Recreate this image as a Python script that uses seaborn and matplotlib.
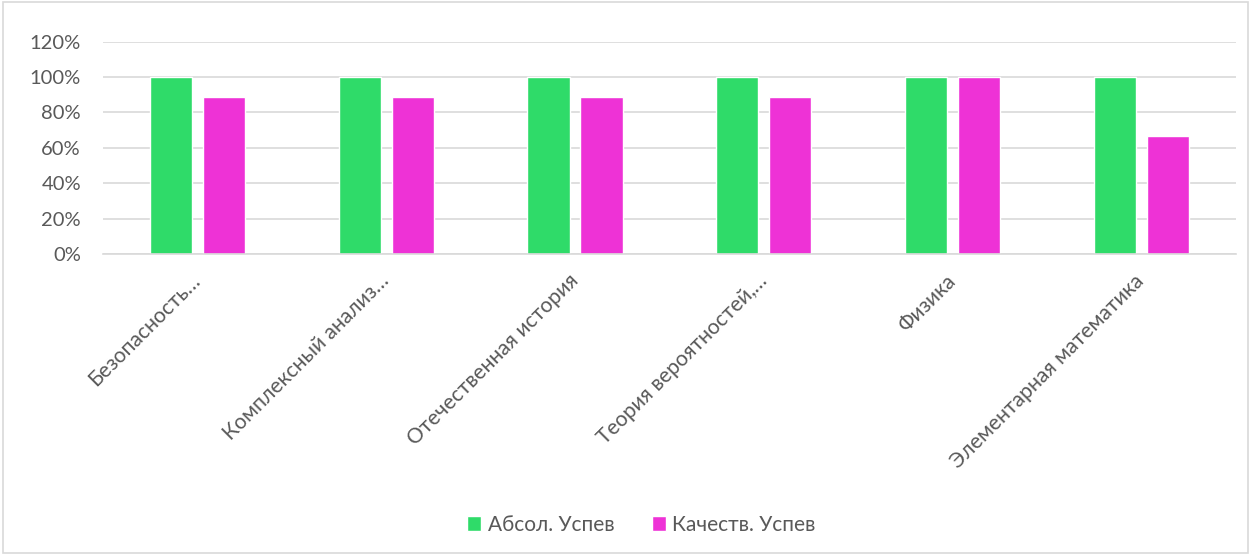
import matplotlib
matplotlib.use("Agg")
import matplotlib.pyplot as plt
import seaborn as sns
import pandas as pd
from matplotlib.patches import Rectangle
from matplotlib.ticker import PercentFormatter

# data
subjects = ["Безопасность…", "Комплексный анализ…", "Отечественная история",
            "Теория вероятностей,…", "Физика", "Элементарная математика"]
absol = [1.0, 1.0, 1.0, 1.0, 1.0, 1.0]
kachestv = [0.889, 0.889, 0.889, 0.889, 1.0, 0.667]
series_names = ["Абсол. Успев", "Качеств. Успев"]
colors = ["#2FDB69", "#EE32D6"]
y_ticks = [0, 0.2, 0.4, 0.6, 0.8, 1.0, 1.2]

df = pd.DataFrame({
    "subject": subjects * 2,
    "value": absol + kachestv,
    "series": [series_names[0]] * len(subjects) + [series_names[1]] * len(subjects),
})

sns.set_style("white")
plt.rcParams["font.family"] = ["Lato", "DejaVu Sans"]
text_col = "#595959"

fig = plt.figure(figsize=(12.5, 5.55), dpi=100)
ax = fig.add_axes([0.0825, 0.542, 0.906, 0.383])

sns.barplot(data=df, x="subject", y="value", hue="series", palette=colors,
            width=0.56, gap=0.2, ax=ax, saturation=1, legend=True)

ax.set_ylim(0, 1.2)
ax.set_yticks(y_ticks)
ax.yaxis.set_major_formatter(PercentFormatter(1.0, decimals=0))
ax.set_xlim(-0.5, len(subjects) - 0.5)
ax.grid(axis="y", color="#D9D9D9", linewidth=1.2)
ax.set_axisbelow(True)
for s in ["top", "right", "left"]:
    ax.spines[s].set_visible(False)
ax.spines["bottom"].set_color("#D9D9D9")
ax.spines["bottom"].set_linewidth(1.2)
ax.tick_params(axis="both", length=0, colors=text_col)
ax.tick_params(axis="y", pad=16, labelsize=14.5)
ax.tick_params(axis="x", pad=17, labelsize=15.2)
ax.set_xticks(range(len(subjects)))
ax.set_xticklabels(subjects, rotation=45, ha="right", va="center",
                   rotation_mode="anchor")
ax.set_xlabel("")
ax.set_ylabel("")

handles, labels = ax.get_legend_handles_labels()
ax.legend_.remove()
fig.legend(handles, labels, loc="center", bbox_to_anchor=(0.513, 0.054), ncol=2,
           frameon=False, fontsize=15, labelcolor=text_col, handlelength=0.7,
           handleheight=0.7, handletextpad=0.3, columnspacing=1.8)

fig.patches.append(Rectangle((0.002, 0.003), 0.996, 0.994, transform=fig.transFigure,
                             fill=False, edgecolor="#D9D9D9", linewidth=1.2))

fig.savefig("out.png", dpi=100, facecolor="white")
